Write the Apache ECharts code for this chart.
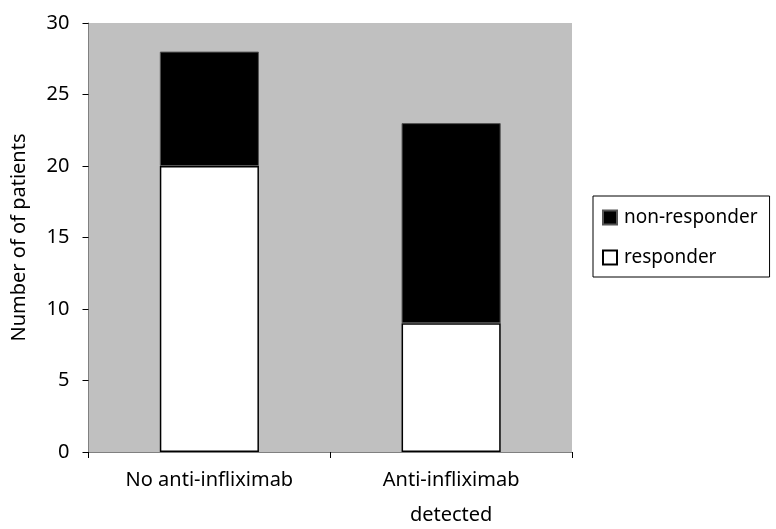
<!DOCTYPE html>
<html><head><meta charset="utf-8">
<script src="https://cdn.jsdelivr.net/npm/echarts@6/dist/echarts.min.js"></script>
<style>html,body{margin:0;padding:0;background:#fff}#c{width:776px;height:529px}</style>
</head><body><div id="c"></div>
<script>
var categories = ['No anti-infliximab', 'Anti-infliximab\ndetected'];
var responder = [20, 9];
var nonResponder = [8, 14];
var yTicks = [0, 5, 10, 15, 20, 25, 30];
var FONT = 'Noto Sans';
var chart = echarts.init(document.getElementById('c'), null, {renderer: 'canvas'});
chart.setOption({
  animation: false,
  textStyle: {fontFamily: FONT},
  grid: {left: 88.5, top: 23, right: 204, bottom: 77, show: true, backgroundColor: '#c0c0c0', borderWidth: 0, outerBoundsMode: 'none', containLabel: false},
  legend: {
    orient: 'vertical', left: 593, top: 196,
    data: ['non-responder', 'responder'],
    borderColor: '#000', borderWidth: 1, padding: [12, 12, 10, 9],
    itemWidth: 14, itemHeight: 14, itemGap: 21, icon: 'rect',
    textStyle: {fontSize: 19, color: '#000', fontFamily: FONT, padding: [0, 0, 0, 2]}
  },
  xAxis: {
    type: 'category', data: categories,
    axisLine: {show: true, lineStyle: {color: '#808080', width: 1}},
    axisTick: {show: true, alignWithLabel: false, length: 6, lineStyle: {color: '#000'}},
    axisLabel: {fontSize: 20, color: '#000', margin: 11, lineHeight: 35, fontFamily: FONT, interval: 0}
  },
  yAxis: {
    type: 'value', min: yTicks[0], max: yTicks[yTicks.length - 1], interval: 5,
    name: 'Number of of patients', nameLocation: 'middle', nameGap: 59, nameRotate: 90,
    nameTextStyle: {fontSize: 20, color: '#000', fontFamily: FONT},
    splitLine: {show: false},
    axisLine: {show: true, lineStyle: {color: '#808080', width: 1}},
    axisTick: {show: true, length: 6, lineStyle: {color: '#000'}},
    axisLabel: {fontSize: 20, color: '#000', margin: 19, fontFamily: FONT}
  },
  series: [
    {name: 'responder', type: 'bar', stack: 's', data: responder, barWidth: '41%',
     itemStyle: {color: '#ffffff', borderColor: '#000', borderWidth: 1.5}},
    {name: 'non-responder', type: 'bar', stack: 's', data: nonResponder, barWidth: '41%',
     itemStyle: {color: '#000000', borderColor: '#555', borderWidth: 1}}
  ]
});
</script></body></html>
